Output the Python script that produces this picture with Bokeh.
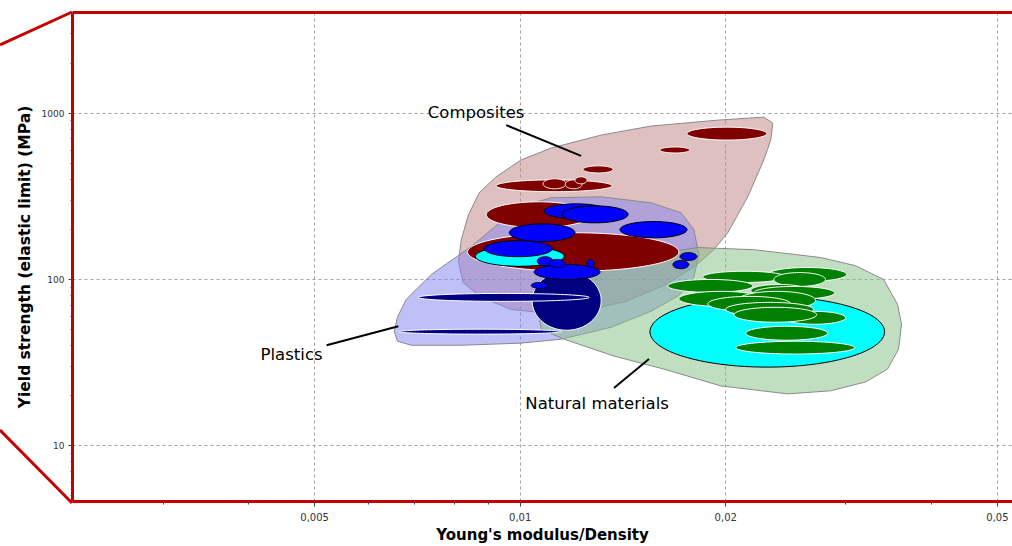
import numpy as np
from bokeh.plotting import figure
from bokeh.models import ColumnDataSource, FixedTicker, LogAxis, Range1d
from bokeh.core.properties import value
from bokeh.embed import file_html
from bokeh.resources import INLINE

# ---------------- data (property ranges) ----------------
# Composites: Young's modulus/Density range and yield strength range (MPa)
comp_xmin = [0.01755, 0.01602, 0.01236, 0.00922, 0.0108, 0.01164, 0.01203, 0.00892, 0.00837]
comp_xmax = [0.02297, 0.01772, 0.01368, 0.01363, 0.01168, 0.01232, 0.01253, 0.0127, 0.01708]
comp_ymin = [689, 576, 437, 337, 351, 351, 376, 205, 112]
comp_ymax = [824, 626, 482, 397, 403, 397, 414, 293, 191]

# Plastics (group: 0 = dark, 1 = light, 2 = standard)
plast_xmin = [0.01041, 0.00709, 0.00665, 0.0086, 0.01084, 0.01152, 0.00964, 0.014, 0.00886,
              0.01048, 0.01059, 0.01103, 0.01253, 0.01038, 0.01714, 0.01674]
plast_xmax = [0.01314, 0.01262, 0.01148, 0.0116, 0.01345, 0.01439, 0.01203, 0.01755, 0.01114,
              0.01309, 0.01117, 0.01164, 0.01283, 0.01099, 0.01815, 0.01766]
plast_ymin = [49.5, 73.8, 46.9, 120, 232, 219, 169, 178, 137, 100, 121, 118, 118, 88.3, 130, 116]
plast_ymax = [112, 82.4, 50.2, 158, 285, 277, 216, 223, 171, 123, 137, 132, 132, 95.9, 145, 130]
plast_group = [0, 0, 0, 1, 2, 2, 2, 2, 2, 2, 2, 2, 2, 2, 2, 2]

# Natural materials (group: 1 = light, 2 = standard)
nat_xmin = [0.01549, 0.02305, 0.01851, 0.02352, 0.01646, 0.02177, 0.02199, 0.01708, 0.02083,
            0.01883, 0.02432, 0.0200, 0.02056, 0.0214, 0.02069]
nat_xmax = [0.03417, 0.03007, 0.02449, 0.028, 0.02191, 0.02637, 0.02887, 0.02267, 0.02708,
            0.0249, 0.02996, 0.0269, 0.02718, 0.0282, 0.03089]
nat_ymin = [29.7, 97.3, 95.9, 90.8, 83.6, 79.1, 75.9, 68.9, 66.1, 64.3, 53.8, 60.0, 55.3, 43.1, 35.6]
nat_ymax = [79.1, 118, 112, 110, 100, 93.3, 90.8, 84.8, 84.8, 79.1, 64.3, 72.8, 68.0, 52.3, 42.5]
nat_group = [1, 2, 2, 2, 2, 2, 2, 2, 2, 2, 2, 2, 2, 2, 2]

# Family envelopes (data coordinates)
comp_env_x = [0.02274, 0.02344, 0.02328, 0.02274, 0.02154, 0.02014, 0.01921, 0.01808, 0.01635,
              0.01429, 0.01228, 0.01092, 0.0097, 0.00877, 0.00825, 0.00812, 0.0082, 0.0084,
              0.00871, 0.00922, 0.01003, 0.0111, 0.01314, 0.01554, 0.01947]
comp_env_y = [946, 871, 689, 523, 314, 191, 151, 121, 93.3, 73.8, 64.3, 62.6, 66.1, 78.0, 95.9,
              128.2, 173.6, 245, 332, 414, 523, 617, 738, 836, 908]
plast_env_x = [0.00654, 0.00661, 0.00693, 0.0082, 0.01003, 0.01148, 0.01359, 0.01554, 0.01708,
               0.01796, 0.01827, 0.01796, 0.0172, 0.01554, 0.01314, 0.0111, 0.0102, 0.00938,
               0.00848, 0.00741, 0.00681, 0.00661]
plast_env_y = [48.8, 42.5, 40.2, 40.2, 41.4, 43.7, 51.6, 64.3, 80.2, 102.8, 141.1, 199.3, 252,
               289, 314, 310, 281, 223, 158, 107.1, 75.9, 59.2]
nat_env_x = [0.0182, 0.02199, 0.02754, 0.03099, 0.03406, 0.03569, 0.03618, 0.03582, 0.03451,
             0.03206, 0.02849, 0.02465, 0.01967, 0.01624, 0.01372, 0.0116, 0.01073, 0.01066,
             0.01129, 0.01314, 0.01554]
nat_env_y = [155.5, 151, 135.5, 121, 100, 70.9, 53.8, 38.1, 28.9, 24.2, 21.4, 20.5, 22.9, 28.9,
             34.6, 43.7, 50.2, 61.7, 81.3, 112, 141]

# Labels and leader lines
label_text = ["Composites", "Plastics", "Natural materials"]
label_x = [0.00862, 0.004626, 0.01296]
label_y = [1014, 35.6, 17.85]
leader_x0 = [0.00954, 0.005205, 0.01372]
leader_y0 = [847, 40.2, 22.25]
leader_x1 = [0.01228, 0.006632, 0.01544]
leader_y1 = [553, 52.3, 33.2]

x_ticks = [0.005, 0.01, 0.02, 0.05]
x_tick_labels = ["0,005", "0,01", "0,02", "0,05"]
x_minor = [0.003, 0.004, 0.006, 0.007, 0.008, 0.009, 0.03, 0.04]
y_ticks = [10, 100, 1000]
y_tick_labels = ["10", "100", "1000"]
y_minor = [5, 6, 7, 8, 9, 20, 30, 40, 50, 60, 70, 80, 90,
           200, 300, 400, 500, 600, 700, 800, 900, 2000, 3000, 4000]

# ---------------- styling ----------------
RED = "#c40000"
FONT = "DejaVu Sans"
group_fill = {0: "#000080", 1: "#00ffff", 2: None}
group_line = {0: "white", 1: "black", 2: None}


def ellipse(x0, x1, y0, y1, n=90):
    lx0, lx1, ly0, ly1 = np.log10([x0, x1, y0, y1])
    cx, cy = (lx0 + lx1) / 2, (ly0 + ly1) / 2
    ax, ay = (lx1 - lx0) / 2, (ly1 - ly0) / 2
    t = np.linspace(0, 2 * np.pi, n)
    return list(10 ** (cx + ax * np.cos(t))), list(10 ** (cy + ay * np.sin(t)))


def family_source(xmin, xmax, ymin, ymax, groups, base_fill, base_line):
    xs, ys, fills, lines = [], [], [], []
    for a, b, c, d, g in zip(xmin, xmax, ymin, ymax, groups):
        ex, ey = ellipse(a, b, c, d)
        xs.append(ex)
        ys.append(ey)
        fills.append(group_fill.get(g) or base_fill)
        lines.append(group_line.get(g) or base_line)
    return ColumnDataSource(dict(xs=xs, ys=ys, fill=fills, line=lines))


p = figure(width=1012, height=546, x_axis_type="log", y_axis_type="log",
           x_range=Range1d(0.00221, 0.0526), y_range=Range1d(4.62, 4030),
           output_backend="svg", toolbar_location=None,
           min_border_left=72, min_border_right=0, min_border_top=12, min_border_bottom=43)
p.outline_line_color = None
p.background_fill_color = "white"
p.border_fill_color = None

# decorative perspective lines at the left of the frame (page background)
deco_svg = ("<svg xmlns='http://www.w3.org/2000/svg' width='1012' height='546'>"
            "<path d='M0 45 L72 12 M0 430 L72 503' stroke='%23c40000' stroke-width='3' "
            "fill='none'/></svg>")
p.styles = {"background-image": f'url("data:image/svg+xml;utf8,{deco_svg}")',
            "background-repeat": "no-repeat", "background-color": "white"}

# grid
for g in (p.xgrid, p.ygrid):
    g.grid_line_color = "#a0a0a0"
    g.grid_line_dash = "3 3"
    g.grid_line_width = 1

# axes
p.xaxis.ticker = FixedTicker(ticks=x_ticks, minor_ticks=x_minor)
p.xaxis.major_label_overrides = dict(zip(x_ticks, x_tick_labels))
p.yaxis.ticker = FixedTicker(ticks=y_ticks, minor_ticks=y_minor)
p.yaxis.major_label_overrides = dict(zip(y_ticks, y_tick_labels))
for ax in (p.xaxis, p.yaxis):
    ax.axis_line_color = RED
    ax.axis_line_width = 3
    ax.major_tick_line_color = "#444444"
    ax.minor_tick_line_color = "#444444"
    ax.major_tick_in = 0
    ax.minor_tick_in = 0
    ax.major_label_text_font = FONT
    ax.major_label_text_color = "#333333"
    ax.axis_label_text_font = FONT
    ax.axis_label_text_font_style = "bold"
    ax.axis_label_text_color = "black"
p.xaxis.major_tick_out = 5
p.xaxis.minor_tick_out = 3
p.yaxis.major_tick_out = 4
p.yaxis.minor_tick_out = 2
p.xaxis.major_label_text_font_size = "10px"
p.yaxis.major_label_text_font_size = "9px"
p.xaxis.major_label_standoff = 6
p.yaxis.major_label_standoff = 4
p.xaxis.axis_label = "Young's modulus/Density"
p.yaxis.axis_label = "Yield strength (elastic limit) (MPa)"
p.xaxis.axis_label_text_font_size = "15px"
p.yaxis.axis_label_text_font_size = "15.5px"
p.xaxis.axis_label_standoff = 2
p.yaxis.axis_label_standoff = 5

top = LogAxis(ticker=FixedTicker(ticks=[]), axis_line_color=RED, axis_line_width=3,
              major_tick_line_color=None, minor_tick_line_color=None,
              major_label_text_font_size="0px", major_label_standoff=0,
              major_tick_out=0, minor_tick_out=0)
p.add_layout(top, "above")

# envelopes
p.patch(comp_env_x, comp_env_y, fill_color="#bf8181", fill_alpha=0.5,
        line_color="#8a8a8a", line_width=1)
p.patch(plast_env_x, plast_env_y, fill_color="#8181f1", fill_alpha=0.5,
        line_color="#8a8a8a", line_width=1)
p.patch(nat_env_x, nat_env_y, fill_color="#81bd81", fill_alpha=0.5,
        line_color="#8a8a8a", line_width=1)

# material ellipses
src_c = family_source(comp_xmin, comp_xmax, comp_ymin, comp_ymax, [2] * len(comp_xmin),
                      "#800000", "white")
src_p = family_source(plast_xmin, plast_xmax, plast_ymin, plast_ymax, plast_group,
                      "#0000ff", "black")
src_n = family_source(nat_xmin, nat_xmax, nat_ymin, nat_ymax, nat_group,
                      "#008000", "white")
for src in (src_c, src_p, src_n):
    p.patches("xs", "ys", source=src, fill_color="fill", line_color="line", line_width=1)

# labels
p.segment(leader_x0, leader_y0, leader_x1, leader_y1, line_color="black", line_width=2)
p.text(label_x, label_y, text=label_text, text_align="center", text_baseline="middle",
       text_font=value(FONT), text_font_size="16.5px", text_color="black")

open("out.html", "w").write(file_html(p, INLINE))
